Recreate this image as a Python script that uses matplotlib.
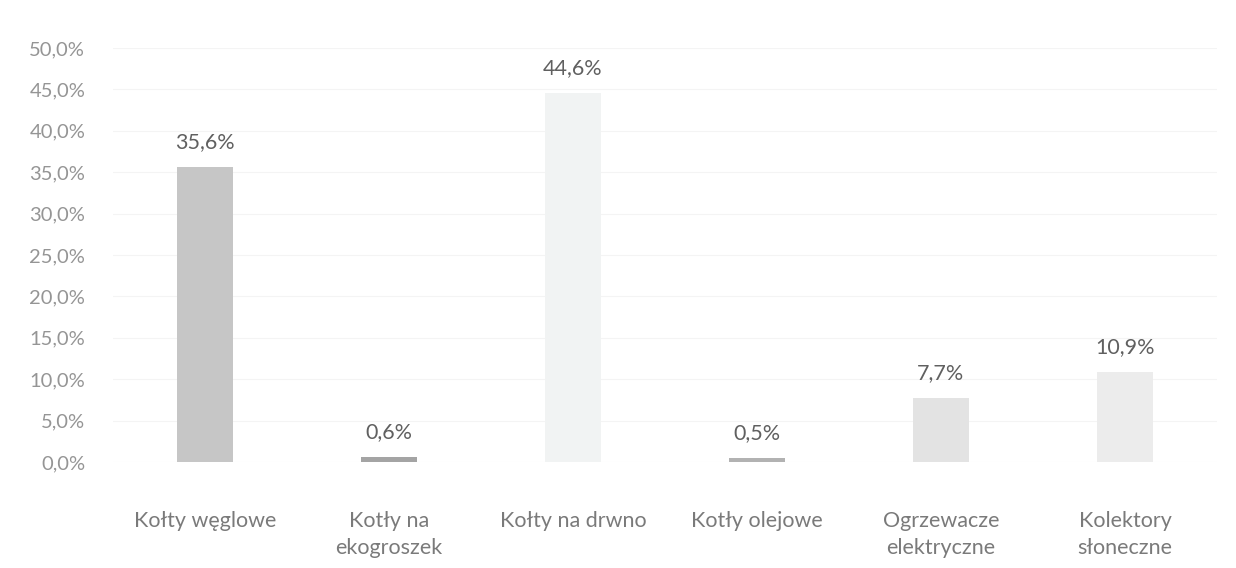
import matplotlib.pyplot as plt

categories = ["Kołty węglowe", "Kotły na\nekogroszek", "Kołty na drwno",
              "Kotły olejowe", "Ogrzewacze\nelektryczne", "Kolektory\nsłoneczne"]
values = [35.6, 0.6, 44.6, 0.5, 7.7, 10.9]
bar_colors = ["#c6c6c6", "#a4a4a4", "#f1f3f3", "#b2b2b2", "#e3e3e3", "#ececec"]
y_ticks = [0, 5, 10, 15, 20, 25, 30, 35, 40, 45, 50]

plt.rcParams['font.family'] = ['Lato', 'DejaVu Sans']

fig = plt.figure(figsize=(12.36, 5.68), dpi=100)
ax = fig.add_axes([0.0914, 0.1866, 0.8932, 0.7289])

x = range(len(categories))
bars = ax.bar(x, values, width=0.30, color=bar_colors, zorder=2)

for xi, v in zip(x, values):
    ax.text(xi, v + 1.8, f"{v:.1f}%".replace(".", ","), ha="center", va="bottom",
            fontsize=15.5, color="#606060")

ax.set_xlim(-0.5, len(categories) - 0.5)
ax.set_ylim(0, 50)
ax.set_yticks(y_ticks)
ax.set_yticklabels([f"{t:.1f}%".replace(".", ",") for t in y_ticks])
ax.set_xticks(list(x))
ax.set_xticklabels(categories, linespacing=1.45)

ax.tick_params(axis="y", length=0, pad=20, labelsize=14.5, labelcolor="#959595")
ax.tick_params(axis="x", length=0, pad=35, labelsize=15.5, labelcolor="#7a7a7a")
for s in ax.spines.values():
    s.set_visible(False)
ax.yaxis.grid(True, color="#f4f4f4", linewidth=0.8, zorder=0)

plt.savefig("out.png", dpi=100)
plt.close(fig)
